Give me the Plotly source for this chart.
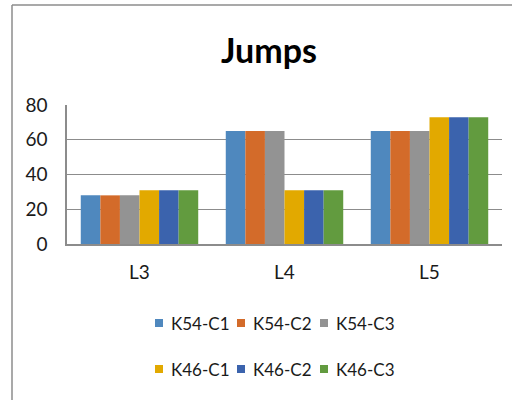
import plotly.graph_objects as go

# Categories and series values
levels = ["L3", "L4", "L5"]
series_names = ["K54-C1", "K54-C2", "K54-C3", "K46-C1", "K46-C2", "K46-C3"]
k54_c1 = [28, 65, 65]
k54_c2 = [28, 65, 65]
k54_c3 = [28, 65, 65]
k46_c1 = [31, 31, 73]
k46_c2 = [31, 31, 73]
k46_c3 = [31, 31, 73]
y_ticks = [0, 20, 40, 60, 80]

series_values = [k54_c1, k54_c2, k54_c3, k46_c1, k46_c2, k46_c3]
colors = ["#4F88BE", "#D36B2A", "#939393", "#E2A900", "#3B63AD", "#629B3F"]

W, H = 519, 400
ML, MR, MT, MB = 67, 17, 105, 156
PW, PH = W - ML - MR, H - MT - MB


def px_x(px):
    return (px - ML) / PW


def px_y(py):
    return (H - MB - py) / PH


FONT = "Lato"
TEXT = "#1A1A1A"

fig = go.Figure()
for name, vals, col in zip(series_names, series_values, colors):
    fig.add_trace(go.Bar(
        x=levels, y=vals, name=name,
        marker=dict(color=col, line=dict(width=0)),
    ))

fig.update_layout(
    width=W, height=H,
    margin=dict(l=ML, r=MR, t=MT, b=MB),
    paper_bgcolor="white", plot_bgcolor="white",
    barmode="group", bargap=0.19, bargroupgap=0,
    showlegend=False,
    title=dict(text="<b>Jumps</b>", x=269 / W, xanchor="center",
               y=1 - 51 / H, yanchor="middle", xref="container", yref="container",
               font=dict(family=FONT, size=34, color="#000000")),
    xaxis=dict(
        showline=True, linecolor="#8C8C8C", linewidth=1.5,
        ticks="", ticklabelstandoff=10,
        tickfont=dict(family=FONT, size=19, color=TEXT),
        showgrid=False,
    ),
    yaxis=dict(
        range=[0, 80], tickvals=y_ticks,
        showline=True, linecolor="#8C8C8C", linewidth=1.5,
        showgrid=True, gridcolor="#8C8C8C", gridwidth=1.2,
        ticks="", ticklabelstandoff=14,
        tickfont=dict(family=FONT, size=19, color=TEXT),
        zeroline=False,
    ),
)

# Legend: two rows of three keys (colour square + series name)
key_cols_px = [155, 237, 320]
key_rows_px = [323, 369]
SQ = 8
for i, (name, col) in enumerate(zip(series_names, colors)):
    kx = key_cols_px[i % 3]
    ky = key_rows_px[i // 3]
    fig.add_shape(type="rect", xref="paper", yref="paper",
                  x0=px_x(kx), x1=px_x(kx + SQ),
                  y0=px_y(ky + SQ / 2), y1=px_y(ky - SQ / 2),
                  fillcolor=col, line=dict(width=0))
    fig.add_annotation(xref="paper", yref="paper",
                       x=px_x(kx + SQ + 6), y=px_y(ky),
                       xanchor="left", yanchor="middle", showarrow=False,
                       text=name, font=dict(family=FONT, size=17, color=TEXT))

# Outer chart frame: left and top edges
frame = dict(color="#8C8C8C", width=1.5)
fig.add_shape(type="line", xref="paper", yref="paper",
              x0=px_x(12), x1=px_x(12), y0=px_y(5), y1=px_y(400), line=frame)
fig.add_shape(type="line", xref="paper", yref="paper",
              x0=px_x(12), x1=px_x(512), y0=px_y(5), y1=px_y(5), line=frame)

fig.write_html("out.html")
